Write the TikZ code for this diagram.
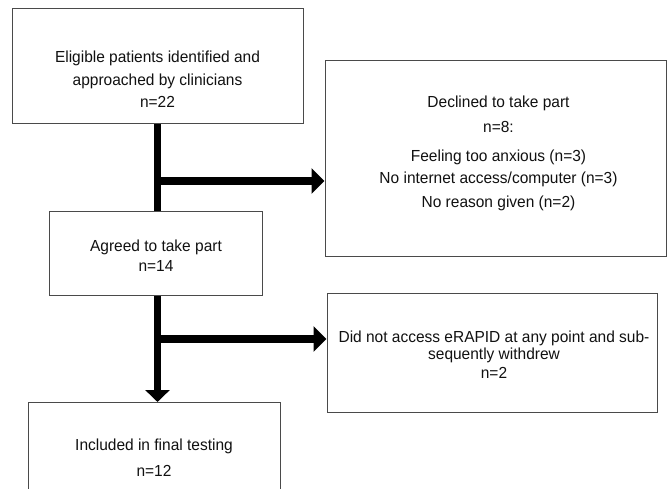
\documentclass[tikz,border=0pt]{standalone}
\usepackage{fontspec}
\setmainfont[FakeStretch=0.968]{Liberation Sans}
\usetikzlibrary{arrows.meta}
\definecolor{boxgray}{HTML}{4A4A4A}
\definecolor{txtcol}{HTML}{111111}
\begin{document}
\begin{tikzpicture}[x=1pt,y=-1pt,
  box/.style={draw=boxgray, line width=1pt, inner sep=0pt, fill=white},
  txt/.style={font=\fontsize{16}{18}\selectfont, anchor=base, inner sep=0pt, text=txtcol},
  bar/.style={line width=7.5pt, draw=black},
  headh/.style={-{Triangle[width=25pt,length=13pt]}},
  headv/.style={-{Triangle[width=24pt,length=12pt]}}]
\useasboundingbox (0,0) rectangle (667,489);
% boxes
\node[box, minimum width=291pt, minimum height=115pt] (b1) at (157.5,66.5) {};
\node[box, minimum width=341pt, minimum height=196pt] (b2) at (495.5,159) {};
\node[box, minimum width=213pt, minimum height=84pt] (b3) at (155.5,254) {};
\node[box, minimum width=330pt, minimum height=118pt] (b4) at (492,353) {};
\node[box, minimum width=252pt, minimum height=130pt, anchor=north] (b5) at (154,402) {};
% texts
\node[txt] (t1a) at (157.5,63) {Eligible patients identified and};
\node[txt] (t1b) at (157.5,86) {approached by clinicians};
\node[txt] (t1c) at (157.5,107.5) {n=22};
\node[txt] (t2a) at (498.5,107.5) {Declined to take part};
\node[txt] (t2b) at (498.5,132.5) {n=8:};
\node[txt] (t2c) at (498.5,162) {Feeling too anxious (n=3)};
\node[txt] (t2d) at (498.5,184) {No internet access/computer (n=3)};
\node[txt] (t2e) at (498.5,208) {No reason given (n=2)};
\node[txt] (t3a) at (156,252) {Agreed to take part};
\node[txt] (t3b) at (156,272) {n=14};
\node[txt] (t4a) at (494,342) {Did not access eRAPID at any point and sub-};
\node[txt] (t4b) at (494,359) {sequently withdrew};
\node[txt] (t4c) at (494,378) {n=2};
\node[txt] (t5a) at (154,450) {Included in final testing};
\node[txt] (t5b) at (154,476) {n=12};
% connectors
\draw[bar] (b1.south) -- (b1.south |- b3.north);
\coordinate (j1) at (157.5,181);
\draw[bar, headh] (j1) -- (j1 -| b2.west);
\draw[bar, headv] (b1.south |- b3.south) -- (b1.south |- b5.north);
\coordinate (j2) at (157.5,339);
\draw[bar, headh] (j2) -- (j2 -| b4.west);
\end{tikzpicture}
\end{document}
